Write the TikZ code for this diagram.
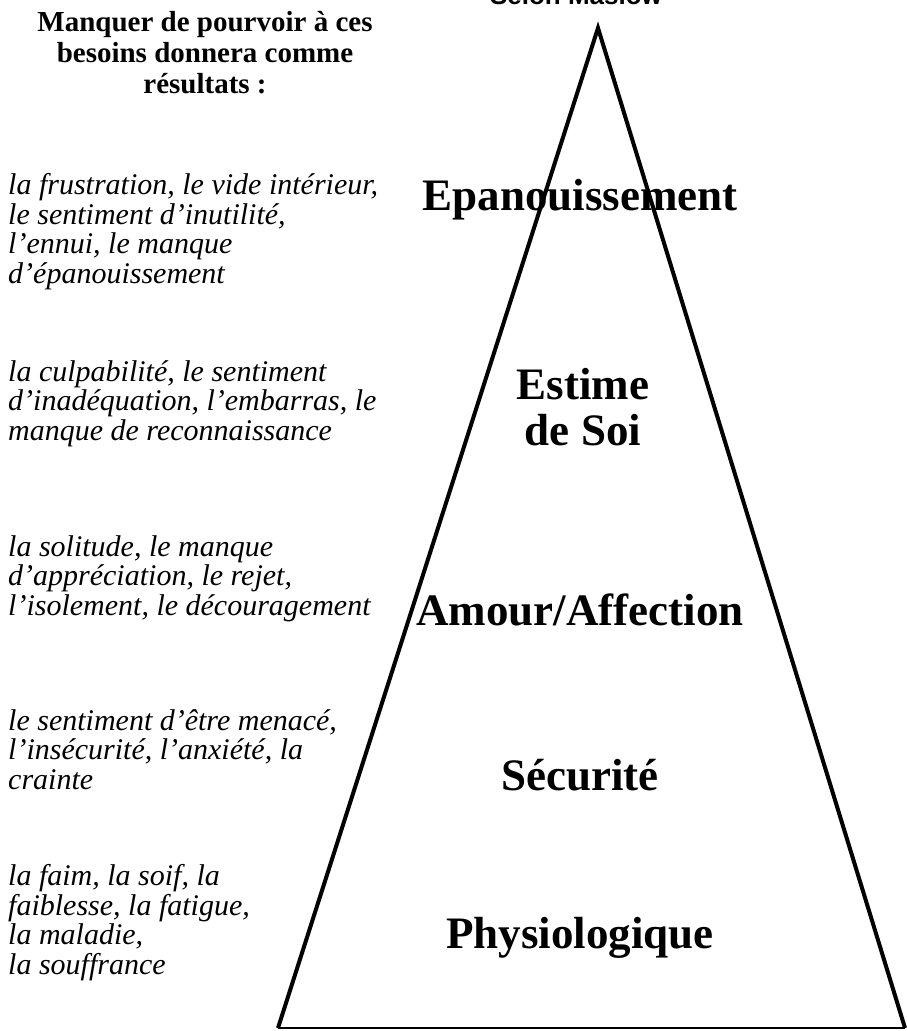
\documentclass[tikz,border=0pt]{standalone}
\usepackage{fontspec}
\setmainfont{Liberation Serif}
\newfontfamily\maslowsans{Liberation Sans}
\begin{document}
\begin{tikzpicture}[x=1pt, y=-1pt,
  niveau/.style={font=\fontsize{45}{46}\selectfont\bfseries, anchor=base, align=center, inner sep=0pt},
  manque/.style={font=\fontsize{30}{29.5}\selectfont\itshape, anchor=base west, align=left, inner sep=0pt},
  entete/.style={font=\fontsize{29}{31}\selectfont\bfseries, anchor=base, align=center, inner sep=0pt}]

  \useasboundingbox (0,0) rectangle (907,1031);

  %% titre coupe en haut
  \node[font=\fontsize{26}{28}\selectfont\maslowsans\bfseries, anchor=base, inner sep=0pt] (selon) at (576,4) {Selon Maslow};

  %% colonne de gauche (ancre = ligne de base de la derniere ligne)
  \node[entete] (titre) at (205,93) {Manquer de pourvoir à ces\\besoins donnera comme\\résultats :};

  \node[manque] (m5) at (8,283) {la frustration, le vide intérieur,\\le sentiment d’inutilité,\\l’ennui, le manque\\d’épanouissement};
  \node[manque] (m4) at (8,440) {la culpabilité, le sentiment\\d’inadéquation, l’embarras, le\\manque de reconnaissance};
  \node[manque] (m3) at (8,615) {la solitude, le manque\\d’appréciation, le rejet,\\l’isolement, le découragement};
  \node[manque] (m2) at (8,789) {le sentiment d’être menacé,\\l’insécurité, l’anxiété, la\\crainte};
  \node[manque] (m1) at (8,974) {la faim, la soif, la\\faiblesse, la fatigue,\\la maladie,\\la souffrance};

  %% niveaux de la pyramide
  \node[niveau] (n5) at (580,210) {Epanouissement};
  \node[niveau] (n4) at (583,445) {Estime\\de Soi};
  \node[niveau] (n3) at (580,625) {Amour/Affection};
  \node[niveau] (n2) at (580,790) {Sécurité};
  \node[niveau] (n1) at (580,948) {Physiologique};

  %% pyramide
  \coordinate (sommet) at (598,28);
  \coordinate (baseG) at (278,1028);
  \coordinate (baseD) at (905,1028);
  \draw[line width=4pt] (baseG) -- (sommet) -- (baseD);
  \draw[line width=1.8pt] (baseG) -- (baseD);
\end{tikzpicture}
\end{document}
